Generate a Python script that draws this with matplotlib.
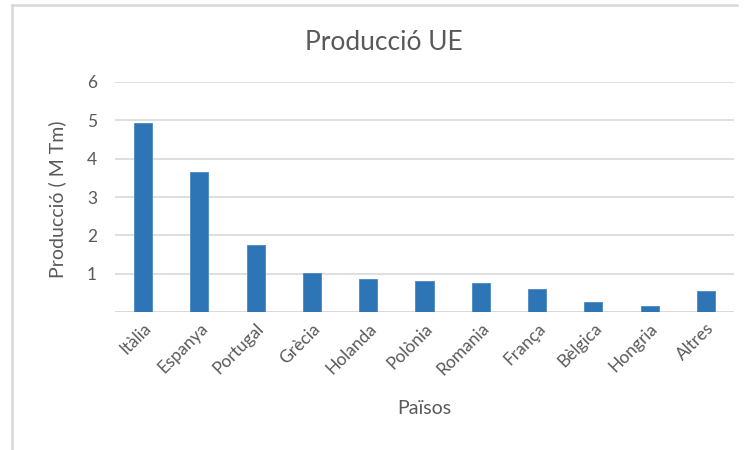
import matplotlib
matplotlib.use("Agg")
import matplotlib.pyplot as plt
from matplotlib.lines import Line2D

countries = ["Itàlia", "Espanya", "Portugal", "Grècia", "Holanda", "Polònia",
             "Romania", "França", "Bèlgica", "Hongria", "Altres"]
production = [4.93, 3.66, 1.74, 1.03, 0.85, 0.82, 0.75, 0.59, 0.25, 0.15, 0.54]
y_ticks = [1, 2, 3, 4, 5, 6]

plt.rcParams["font.family"] = ["Lato", "DejaVu Sans"]
text_color = "#595959"
grid_color = "#d9d9d9"
bar_color = "#2E75B6"

W, H = 747, 450
fig = plt.figure(figsize=(W / 100, H / 100), dpi=100)
ax = fig.add_axes([115 / W, 1 - 312 / H, (734 - 115) / W, (312 - 82) / H])

x = range(len(countries))
ax.bar(x, production, width=0.32, color=bar_color, edgecolor="#4a88c4",
       linewidth=0.6, zorder=3)

ax.set_xlim(-0.5, len(countries) - 0.5)
ax.set_ylim(0, 6)
ax.set_yticks(y_ticks)
ax.set_yticklabels([str(t) for t in y_ticks])
ax.yaxis.grid(True, color=grid_color, linewidth=1.2, zorder=0)
ax.axhline(0, color=grid_color, linewidth=1.4, zorder=1)
for s in ax.spines.values():
    s.set_visible(False)
ax.tick_params(axis="both", length=0, colors=text_color, labelsize=12.5)
ax.tick_params(axis="y", pad=13)
ax.tick_params(axis="x", pad=6)

ax.set_xticks(list(x))
ax.set_xticklabels(countries, rotation=45, ha="right", rotation_mode="anchor")

fig.text(384 / W, 1 - 42 / H, "Producció UE", ha="center", va="center",
         fontsize=19, color=text_color)
fig.text(57 / W, 1 - 199 / H, "Producció ( M Tm)", ha="center", va="center",
         rotation=90, fontsize=14, color=text_color)
fig.text(424 / W, 1 - 408 / H, "Països", ha="center", va="center",
         fontsize=14, color=text_color)

# chart frame (top and left edges)
fig.add_artist(Line2D([12 / W, 737 / W], [1 - 5 / H, 1 - 5 / H],
                      transform=fig.transFigure, color=grid_color, linewidth=1.8))
fig.add_artist(Line2D([12 / W, 12 / W], [1 - 5 / H, 0],
                      transform=fig.transFigure, color=grid_color, linewidth=1.8))

fig.savefig("out.png", dpi=100)
